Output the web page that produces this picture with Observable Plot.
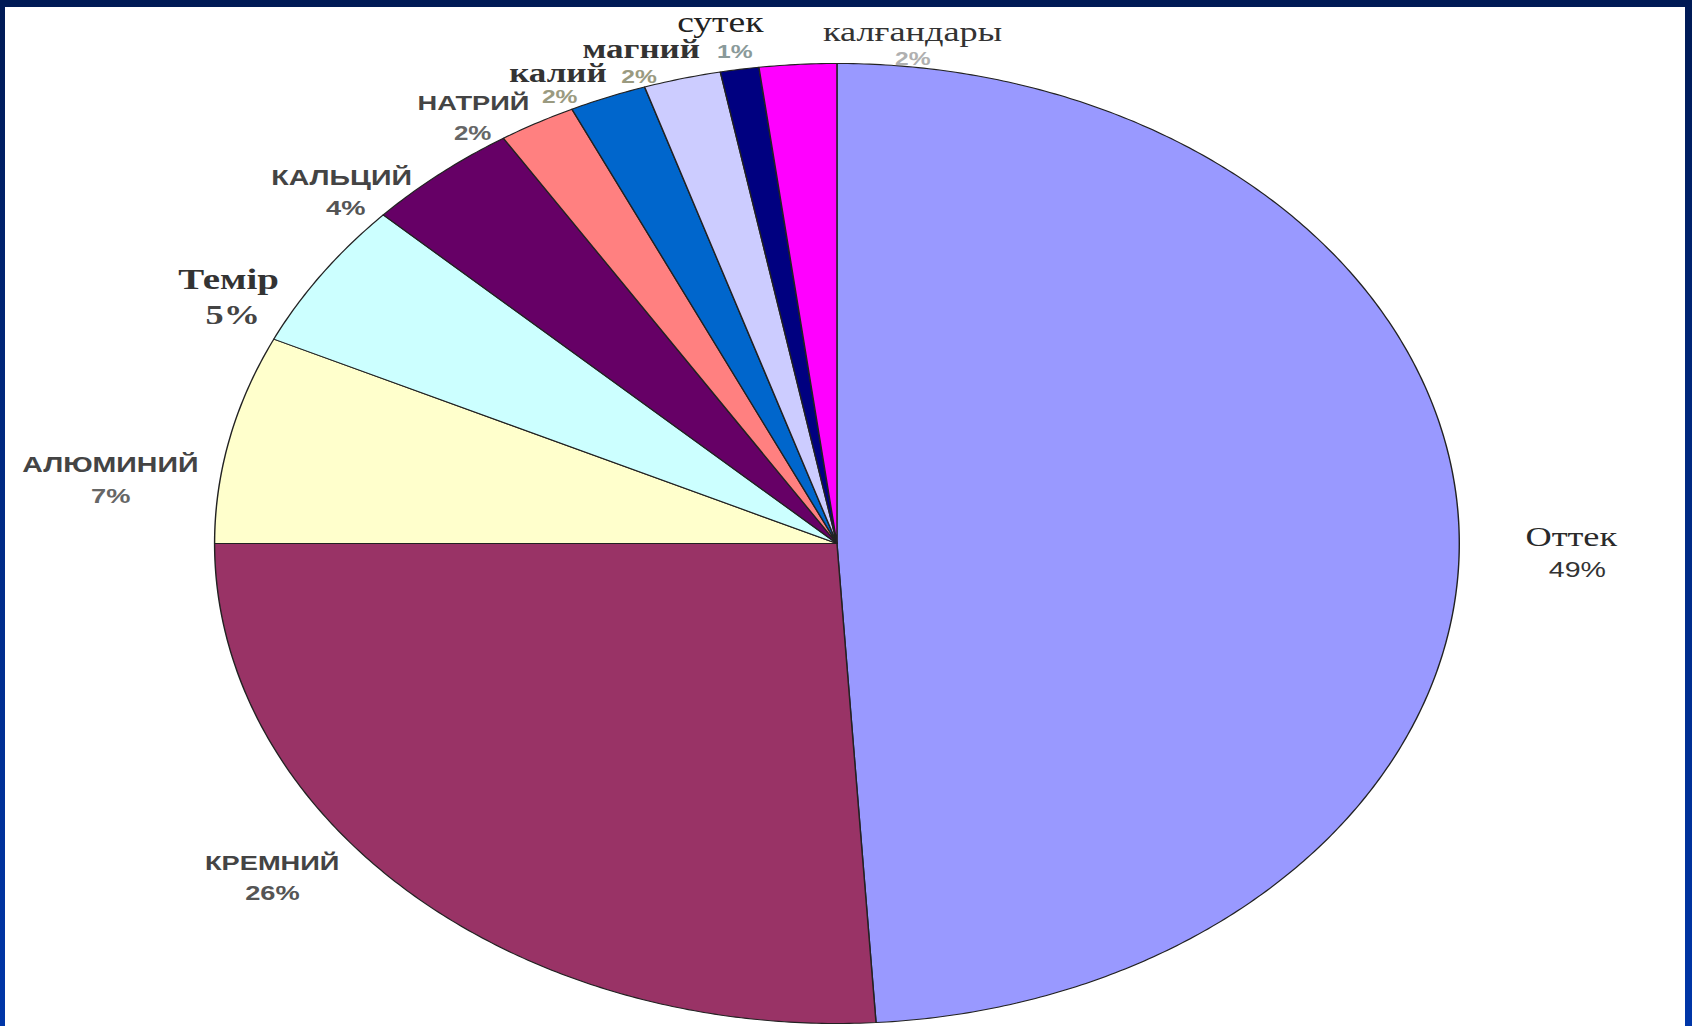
<!DOCTYPE html>
<html>
<head>
<meta charset="utf-8">
<script src="https://cdn.jsdelivr.net/npm/d3@7"></script>
<script src="https://cdn.jsdelivr.net/npm/@observablehq/plot@0.6"></script>
<style>
  html, body { margin: 0; padding: 0; width: 1692px; height: 1026px; overflow: hidden; }
  #frame { position: absolute; left: 0; top: 0; width: 1692px; height: 1026px;
           background: linear-gradient(to bottom, #001a55 0%, #00287e 40%, #0036a8 100%); }
  #inner { position: absolute; left: 5px; top: 7px; width: 1680px; height: 1019px; background: #ffffff; }
  #chart { position: absolute; left: 0; top: 0; transform-origin: 0 0; }
</style>
</head>
<body>
<div id="frame"><div id="inner"></div></div>
<div id="chart"></div>
<script>
// ---- data ----
const elements = ["Оттек", "КРЕМНИЙ", "АЛЮМИНИЙ", "Темір", "КАЛЬЦИЙ", "НАТРИЙ", "калий", "магний", "сутек", "калғандары"];
const percents = [49, 26, 7, 5, 4, 2, 2, 2, 1, 2];
const sliceColors = ["#9999ff", "#993366", "#ffffcc", "#ccffff", "#660066", "#ff8080", "#0066cc", "#ccccff", "#000080", "#ff00ff"];

// label anchors: [angle in degrees clockwise from top, radius as a fraction of the pie radius]
const nameAt = [[89.3, 1.18], [233.7, 1.126], [278.0, 1.179], [299.4, 1.122], [313.7, 1.101],
                [327.5, 1.087], [335.4, 1.077], [343.0, 1.076], [350.2, 1.101], [6.5, 1.072]];
const pctAt  = [[92.7, 1.191], [231.2, 1.164], [274.8, 1.171], [296.1, 1.081], [311.5, 1.054],
                [325.6, 1.036], [334.4, 1.031], [341.9, 1.023], [350.9, 1.038], [6.9, 1.016]];

// ---- styles ----
const SANS = "'Liberation Sans', Arial, sans-serif";
const SERIF = "'Liberation Serif', 'Times New Roman', serif";
const nameStyle = [
  {f: SERIF, w: "normal", s: 28, c: "#2a2a2a"},
  {f: SANS, w: "bold", s: 21, c: "#444"},
  {f: SANS, w: "bold", s: 22, c: "#444"},
  {f: SERIF, w: "bold", s: 30, c: "#333"},
  {f: SANS, w: "bold", s: 22, c: "#444"},
  {f: SANS, w: "bold", s: 21, c: "#444"},
  {f: SERIF, w: "bold", s: 27, c: "#333"},
  {f: SERIF, w: "bold", s: 27, c: "#333"},
  {f: SERIF, w: "normal", s: 29, c: "#222"},
  {f: SERIF, w: "normal", s: 28, c: "#333"}
];
const pctStyle = [
  {f: SANS, w: "normal", s: 22, c: "#333"},
  {f: SANS, w: "bold", s: 21, c: "#555"},
  {f: SANS, w: "bold", s: 21, c: "#666"},
  {f: SERIF, w: "bold", s: 28, c: "#444"},
  {f: SANS, w: "bold", s: 21, c: "#555"},
  {f: SANS, w: "bold", s: 20, c: "#666"},
  {f: SANS, w: "bold", s: 19, c: "#9a9a80"},
  {f: SANS, w: "bold", s: 19, c: "#9a9a80"},
  {f: SANS, w: "bold", s: 19, c: "#8a9a9a"},
  {f: SANS, w: "bold", s: 19, c: "#b0b0b0"}
];

// ---- geometry (unit circle, clockwise from top) ----
const rad = d => d * Math.PI / 180;
const slices = [];
let cum = 0;
percents.forEach((p, i) => {
  const a0 = cum / 100 * 360, a1 = (cum + p) / 100 * 360;
  cum += p;
  const name = elements[i];
  slices.push({name, u: 0, v: 0});
  const n = Math.max(2, Math.ceil((a1 - a0) / 0.5));
  for (let k = 0; k <= n; k++) {
    const a = rad(a0 + (a1 - a0) * k / n);
    slices.push({name, u: Math.sin(a), v: Math.cos(a)});
  }
  slices.push({name, u: 0, v: 0});
});
const polar = ([deg, r]) => ({u: r * Math.sin(rad(deg)), v: r * Math.cos(rad(deg))});

const textMarks = [];
elements.forEach((name, i) => {
  const a = polar(nameAt[i]), b = polar(pctAt[i]);
  const ns = nameStyle[i], ps = pctStyle[i];
  textMarks.push(Plot.text([{...a, t: name}], {x: "u", y: "v", text: "t",
    fontFamily: ns.f, fontWeight: ns.w, fontSize: ns.s, fill: ns.c}));
  textMarks.push(Plot.text([{...b, t: percents[i] + "%"}], {x: "u", y: "v", text: "t",
    fontFamily: ps.f, fontWeight: ps.w, fontSize: ps.s, fill: ps.c}));
});

// ---- layout: the reference pie is stretched horizontally ----
const FULL_W = 1692, H = 1026;
const S = 622.5 / 480;            // horizontal stretch
const W = Math.round(FULL_W / S);
const R = 480, cy = 543;
const cx = 836.5 / S;

const chart = Plot.plot({
  width: W,
  height: H,
  margin: 0,
  style: {background: "transparent", overflow: "visible", maxWidth: "none"},
  x: {domain: [-1, 1], range: [cx - R, cx + R], axis: null},
  y: {domain: [-1, 1], range: [cy + R, cy - R], axis: null},
  color: {domain: elements, range: sliceColors},
  marks: [
    Plot.line(slices, {x: "u", y: "v", z: "name", fill: "name", stroke: "#222",
      strokeWidth: 1.1, strokeLinejoin: "round", curve: "linear"}),
    ...textMarks
  ]
});
const host = document.getElementById("chart");
host.style.transform = `scaleX(${FULL_W / W})`;
host.appendChild(chart);
</script>
</body>
</html>
